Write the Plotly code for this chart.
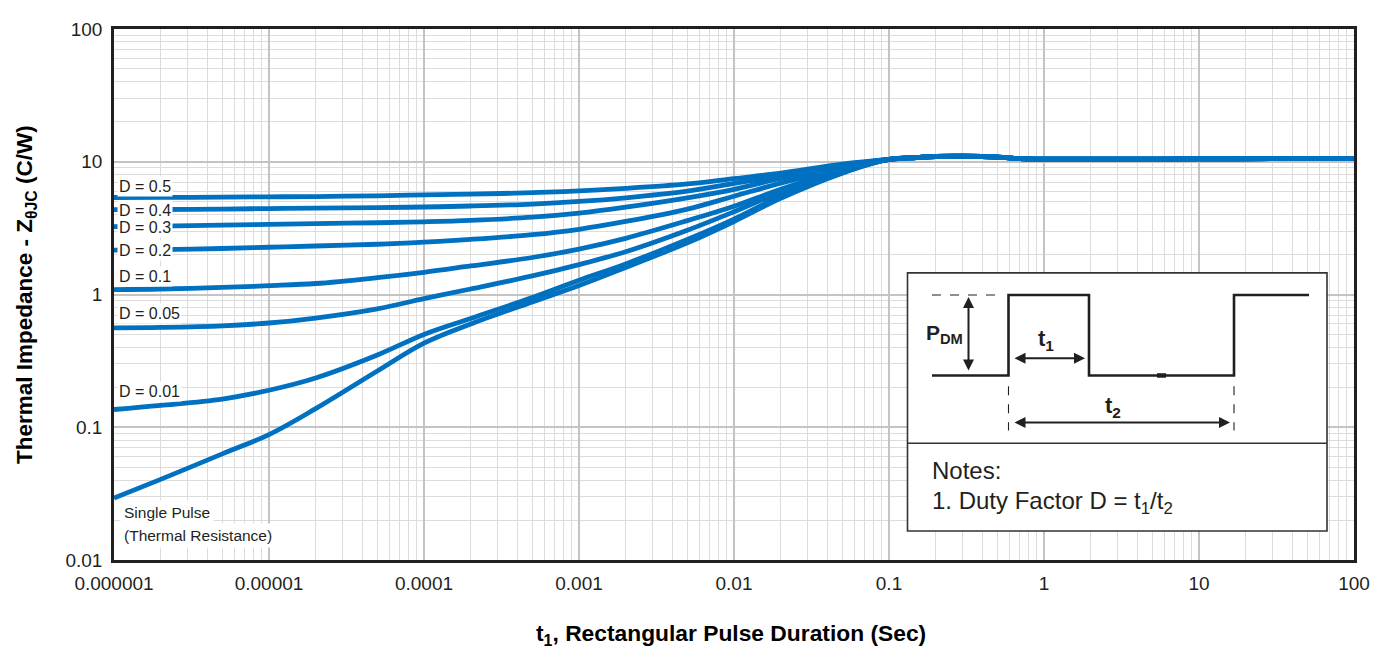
import plotly.graph_objects as go

# ---------------- data ----------------
t_transient = [1e-6, 2e-6, 5e-6, 1e-5, 2e-5, 5e-5, 1e-4, 2e-4, 5e-4,
               1e-3, 2e-3, 5e-3, 1e-2, 2e-2, 5e-2, 0.1]

z_d050 = [5.38, 5.39, 5.41, 5.44, 5.47, 5.54, 5.63, 5.70, 5.85, 6.03, 6.30, 6.80, 7.46, 8.20, 9.60, 10.4]
z_d040 = [4.36, 4.37, 4.40, 4.44, 4.47, 4.51, 4.56, 4.64, 4.80, 5.02, 5.35, 6.00, 6.86, 7.90, 9.40, 10.4]
z_d030 = [3.25, 3.27, 3.33, 3.38, 3.42, 3.47, 3.53, 3.62, 3.82, 4.10, 4.55, 5.35, 6.20, 7.50, 9.20, 10.4]
z_d020 = [2.16, 2.18, 2.22, 2.27, 2.32, 2.39, 2.48, 2.60, 2.82, 3.10, 3.55, 4.40, 5.50, 6.90, 9.00, 10.4]
z_d010 = [1.09, 1.10, 1.13, 1.165, 1.21, 1.34, 1.47, 1.64, 1.90, 2.20, 2.65, 3.60, 4.62, 6.20, 8.70, 10.4]
z_d005 = [0.561, 0.565, 0.58, 0.61, 0.665, 0.78, 0.93, 1.10, 1.38, 1.68, 2.10, 3.05, 4.20, 5.90, 8.50, 10.4]
z_d001 = [0.136, 0.146, 0.163, 0.19, 0.235, 0.35, 0.50, 0.66, 0.95, 1.28, 1.70, 2.60, 3.70, 5.50, 8.30, 10.4]
z_single = [0.0293, 0.0405, 0.063, 0.088, 0.138, 0.265, 0.43, 0.60, 0.88, 1.17, 1.60, 2.45, 3.55, 5.30, 8.20, 10.4]

t_steady = [0.1, 0.15, 0.2, 0.3, 0.5, 0.7, 1, 3, 10, 30, 100]
z_steady = [10.4, 10.75, 10.95, 11.0, 10.85, 10.55, 10.45, 10.45, 10.5, 10.55, 10.6]

series_names = ["D = 0.5", "D = 0.4", "D = 0.3", "D = 0.2", "D = 0.1",
                "D = 0.05", "D = 0.01", "Single Pulse"]
series_values = [z_d050, z_d040, z_d030, z_d020, z_d010, z_d005, z_d001, z_single]

x_tick_vals = [1e-6, 1e-5, 1e-4, 1e-3, 1e-2, 1e-1, 1, 10, 100]
x_tick_text = ["0.000001", "0.00001", "0.0001", "0.001", "0.01", "0.1", "1", "10", "100"]
y_tick_vals = [0.01, 0.1, 1, 10, 100]
y_tick_text = ["0.01", "0.1", "1", "10", "100"]

# ---------------- styling helpers ----------------
# The page body has an 8px margin, so the figure is made 8px smaller and its
# left/top margins reduced by 8px to keep the plot area where the reference has it.
BODY = 8
W, H = 1385 - BODY, 658 - BODY
PL, PT, PR, PB = 114, 19, 1354, 560          # plot area in window pixels
PW, PH = PR - PL, PB - PT
BLUE = "#0070C0"
INK = "#231f20"
FONT = "Liberation Sans, Arial, Helvetica, sans-serif"
NARROW = "Liberation Sans Narrow, Arial Narrow, Liberation Sans, Arial, sans-serif"


def X(p):
    return (p - PL) / PW


def Y(p):
    return (PB - p) / PH


fig = go.Figure()
for name, vals in zip(series_names, series_values):
    fig.add_trace(go.Scatter(
        x=t_transient + t_steady[1:],
        y=vals + z_steady[1:],
        mode="lines",
        name=name,
        line=dict(color=BLUE, width=4.8, shape="spline", smoothing=1.0),
        hoverinfo="skip",
    ))

fig.update_layout(
    width=W, height=H,
    margin=dict(l=PL - BODY, r=W + BODY - PR, t=PT - BODY, b=H + BODY - PB, pad=0),
    plot_bgcolor="white", paper_bgcolor="white",
    showlegend=False,
    font=dict(family=FONT, color=INK),
)

axis_common = dict(
    type="log",
    showgrid=True, gridcolor="#c3c3c3", gridwidth=1.5,
    minor=dict(dtick="D1", showgrid=True, gridcolor="#dcdcdc", gridwidth=1.2, ticks=""),
    showline=True, linecolor=INK, linewidth=2.5, mirror=True,
    ticks="", zeroline=False,
    tickfont=dict(size=19, family=FONT, color=INK),
)
fig.update_xaxes(range=[-6, 2], tickmode="array", tickvals=x_tick_vals, ticktext=x_tick_text,
                 ticklabelstandoff=4, **axis_common)
fig.update_yaxes(range=[-2, 2], tickmode="array", tickvals=y_tick_vals, ticktext=y_tick_text,
                 ticklabelstandoff=5, **axis_common)

ann = []
# axis titles
ann.append(dict(x=X(731), y=Y(636), xref="paper", yref="paper", showarrow=False,
                text="<b>t<sub>1</sub>, Rectangular Pulse Duration (Sec)</b>",
                font=dict(size=22.8, family=FONT, color="black"), xanchor="center", yanchor="middle"))
ann.append(dict(x=X(26), y=Y(290), xref="paper", yref="paper", showarrow=False, textangle=-90,
                text="<b>Thermal Impedance - Z<sub>θJC</sub> (C/W)</b>",
                font=dict(size=22.5, family=FONT, color="black"), xanchor="center", yanchor="middle"))

# curve labels
label_pos = [("D = 0.5", 179), ("D = 0.4", 203.5), ("D = 0.3", 221), ("D = 0.2", 245),
             ("D = 0.1", 271), ("D = 0.05", 309), ("D = 0.01", 388)]
for txt, yy in label_pos:
    ann.append(dict(x=X(117), y=Y(yy), xref="paper", yref="paper", showarrow=False, text=txt,
                    font=dict(size=16, family=FONT, color=INK), xanchor="left", yanchor="middle",
                    bgcolor="white", borderpad=1))
ann.append(dict(x=X(120), y=Y(511.5), xref="paper", yref="paper", showarrow=False, text="Single Pulse",
                font=dict(size=15.5, family=FONT, color=INK), xanchor="left", yanchor="middle",
                bgcolor="white", borderpad=3))
ann.append(dict(x=X(120), y=Y(535.5), xref="paper", yref="paper", showarrow=False,
                text="(Thermal Resistance)",
                font=dict(size=15.5, family=FONT, color=INK), xanchor="left", yanchor="middle",
                bgcolor="white", borderpad=3))

# ---------------- inset diagram ----------------
shapes = []
shapes.append(dict(type="rect", xref="paper", yref="paper", x0=X(907.5), x1=X(1327), y0=Y(530.5), y1=Y(267.5),
                   fillcolor="white", line=dict(color="#333333", width=1.6), layer="above"))
shapes.append(dict(type="line", xref="paper", yref="paper", x0=X(907.5), x1=X(1327), y0=Y(441), y1=Y(441),
                   line=dict(color="#333333", width=1.6)))
wave = [(932, 372), (1008.5, 372), (1008.5, 290), (1089, 290), (1089, 372), (1234, 372),
        (1234, 290), (1309, 290)]
path = "M " + " L ".join(f"{X(a):.5f},{Y(b):.5f}" for a, b in wave)
shapes.append(dict(type="path", xref="paper", yref="paper", path=path,
                   line=dict(color=INK, width=2.6)))
shapes.append(dict(type="line", xref="paper", yref="paper", x0=X(1157), x1=X(1166), y0=Y(372), y1=Y(372),
                   line=dict(color=INK, width=4.5)))
shapes.append(dict(type="line", xref="paper", yref="paper", x0=X(932), x1=X(1000), y0=Y(290), y1=Y(290),
                   line=dict(color=INK, width=1.1, dash="dash")))
for xx in (1008.5, 1234):
    shapes.append(dict(type="line", xref="paper", yref="paper", x0=X(xx), x1=X(xx), y0=Y(383), y1=Y(428),
                       line=dict(color=INK, width=1.1, dash="dash")))

arrow_style = dict(xref="paper", yref="paper", showarrow=True, text="", arrowside="end+start",
                   arrowhead=2, startarrowhead=2, arrowsize=1.1, startarrowsize=1.1,
                   arrowwidth=2, arrowcolor=INK, standoff=0, startstandoff=0)
ann.append(dict(x=X(968.5), y=Y(292), ax=0, ay=75, **arrow_style))     # P_DM
ann.append(dict(x=X(1085), y=Y(354.5), ax=-72, ay=0, **arrow_style))   # t1
ann.append(dict(x=X(1230), y=Y(420), ax=-217, ay=0, **arrow_style))    # t2

ann.append(dict(x=X(944), y=Y(330), xref="paper", yref="paper", showarrow=False,
                text="<b>P<sub>DM</sub></b>", font=dict(size=21, family=NARROW, color=INK),
                xanchor="center", yanchor="middle"))
ann.append(dict(x=X(1046), y=Y(336), xref="paper", yref="paper", showarrow=False,
                text="<b>t<sub>1</sub></b>", font=dict(size=22, family=NARROW, color=INK),
                xanchor="center", yanchor="middle"))
ann.append(dict(x=X(1113), y=Y(404), xref="paper", yref="paper", showarrow=False,
                text="<b>t<sub>2</sub></b>", font=dict(size=22, family=NARROW, color=INK),
                xanchor="center", yanchor="middle"))
ann.append(dict(x=X(930), y=Y(469), xref="paper", yref="paper", showarrow=False,
                text="Notes:", font=dict(size=24, family=FONT, color=INK),
                xanchor="left", yanchor="middle"))
ann.append(dict(x=X(930), y=Y(501), xref="paper", yref="paper", showarrow=False,
                text="1. Duty Factor D = t<sub>1</sub>/t<sub>2</sub>", font=dict(size=24, family=FONT, color=INK),
                xanchor="left", yanchor="middle"))

fig.update_layout(shapes=shapes, annotations=ann)
fig.write_html("out.html")
